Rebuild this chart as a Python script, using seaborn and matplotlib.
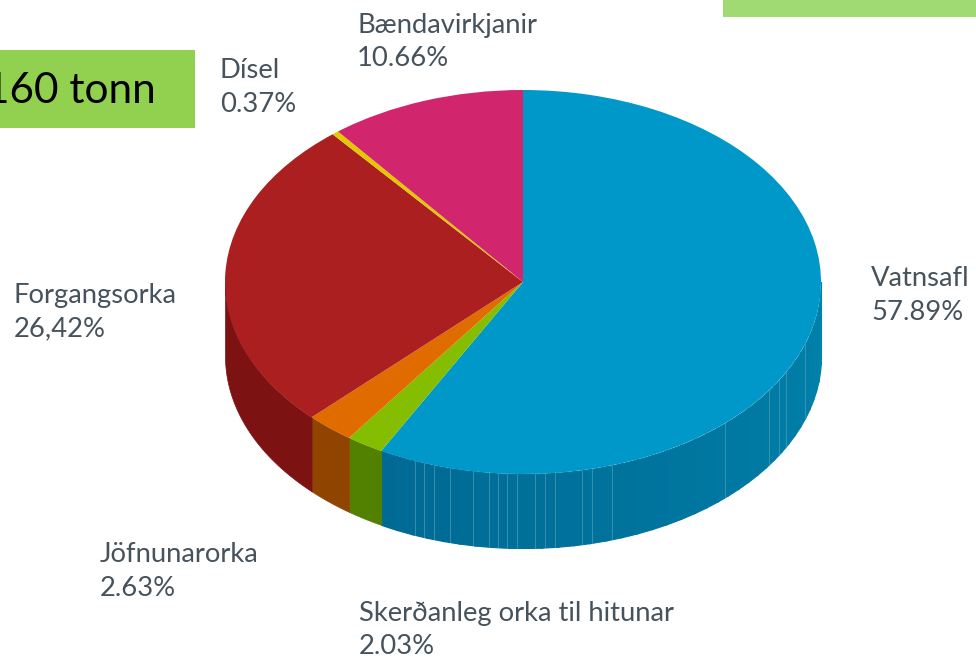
import numpy as np
import matplotlib
matplotlib.use('Agg')
import matplotlib.pyplot as plt
from matplotlib.patches import Rectangle
import seaborn as sns

# Data
names = ['Vatnsafl', 'Skerðanleg orka til hitunar', 'Jöfnunarorka', 'Forgangsorka', 'Dísel', 'Bændavirkjanir']
shares = [57.89, 2.03, 2.63, 26.42, 0.37, 10.66]
share_labels = ['57.89%', '2.03%', '2.63%', '26,42%', '0.37%', '10.66%']
box_label = '160 tonn'

top_colors = ['#0098c9', '#85bd00', '#e06c00', '#ab1f20', '#e3c800', '#d1266d']
side_colors = ['#0079a3', '#528000', '#8f4400', '#7d1212', '#8f7e00', '#84174a']

# Where the labels and the disc sit, in pixels
W, H = 976, 658
CX, CY, RX, RY = 523, 282, 298, 192
DEPTH = 74 / RY
label_pos = [(871, 279), (359, 613), (100, 555), (14, 295), (220, 70), (357, 25)]
seam_px = [415, 424, 434, 450, 473, 489, 498, 507, 517, 535, 545, 555, 582, 592, 612, 725, 769, 779, 786, 805]

sns.set_theme(style='white')
plt.rcParams['font.family'] = ['Lato', 'DejaVu Sans']

fig = plt.figure(figsize=(W / 100, H / 100), dpi=100)
ax = fig.add_axes([0, 0, 1, 1])


def fx(x):
    return x / W


def fy(y):
    return 1 - y / H


# Top of the disc
ax.pie(shares, colors=top_colors, startangle=90, counterclock=False, radius=1,
       center=(0, 0), wedgeprops={'linewidth': 0}, frame=False)
ax.set_aspect('auto')
ax.set_xlim(-CX / RX, (W - CX) / RX)
ax.set_ylim(-(H - CY) / RY, CY / RY)
for w in ax.patches:
    w.set_zorder(3)

# Rim, only the front half shows
edges = 90 - np.cumsum([0] + shares) * 3.6
blue_ramp = sns.blend_palette(['#006a94', '#0082ab'], 40)
for i in range(len(shares)):
    a1 = min(edges[i], 0)
    a2 = max(edges[i + 1], -180)
    if a1 <= a2:
        continue
    t = np.radians(np.linspace(a2, a1, 300))
    if i == 0:
        # blue part gets lighter towards the right
        parts = np.array_split(np.arange(len(t)), 40)
        for c, p in zip(blue_ramp, parts):
            p = np.append(p, min(p[-1] + 2, len(t) - 1))
            ax.fill_between(np.cos(t[p]), np.sin(t[p]), np.sin(t[p]) - DEPTH,
                            color=c, lw=0.8, zorder=2)
    else:
        ax.fill_between(np.cos(t), np.sin(t), np.sin(t) - DEPTH,
                        color=side_colors[i], lw=0.5, zorder=2)

# thin light seams in the blue rim
for s in seam_px:
    xs = (s - CX) / RX
    ys = -np.sqrt(1 - xs ** 2)
    ax.plot([xs, xs], [ys, ys - DEPTH], color='#4f9dba', lw=0.7, alpha=0.7, zorder=2.5)

# Labels
for n, p, (x, y) in zip(names, share_labels, label_pos):
    fig.text(fx(x), fy(y), n, fontsize=19.7, color='#46525c', ha='left', va='center')
    fig.text(fx(x), fy(y + 34), p, fontsize=19.7, color='#46525c', ha='left', va='center')

# Green boxes
fig.add_artist(Rectangle((0, fy(128)), fx(195), (128 - 50) / H, transform=fig.transFigure,
                         color='#92d050', lw=0))
fig.add_artist(Rectangle((fx(723), fy(17)), fx(W - 723), 17 / H, transform=fig.transFigure,
                         color='#a0da72', lw=0))
fig.text(fx(156), fy(91), box_label, fontsize=30.5, color='black', ha='right', va='center')

fig.savefig('out.png', dpi=100)
